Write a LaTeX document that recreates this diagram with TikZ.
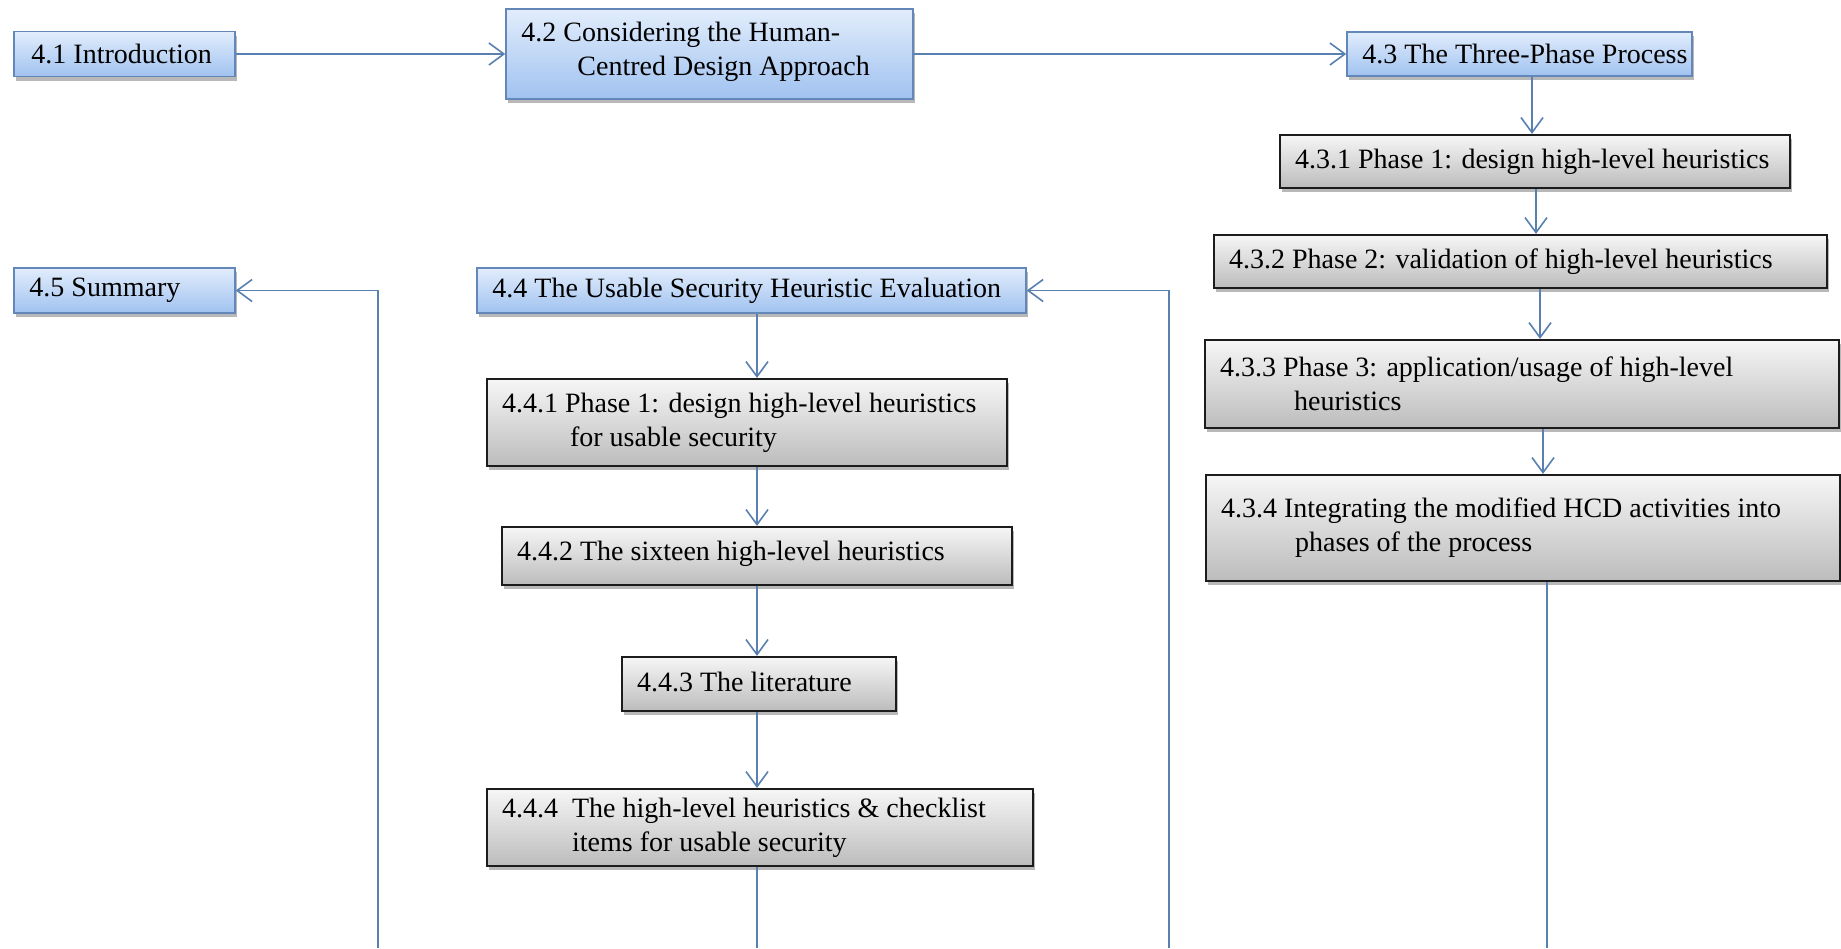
\documentclass[tikz,border=0pt]{standalone}
\usepackage{fontspec}
\setmainfont{Liberation Serif}
\usetikzlibrary{arrows.meta,shadows,positioning}

\definecolor{bluetop}{RGB}{226,237,252}
\definecolor{bluebot}{RGB}{160,194,240}
\definecolor{blueedge}{RGB}{100,135,185}
\definecolor{graytop}{RGB}{246,246,246}
\definecolor{graybot}{RGB}{188,188,188}
\definecolor{grayedge}{RGB}{28,28,28}
\definecolor{linkblue}{RGB}{88,128,176}

\tikzset{
  secbox/.style={draw=blueedge, line width=1.5pt, top color=bluetop, bottom color=bluebot,
    rectangle, inner sep=0pt,
    drop shadow={shadow xshift=1.5pt, shadow yshift=-4pt, fill=black, opacity=0.28}},
  subbox/.style={draw=grayedge, line width=2.2pt, top color=graytop, bottom color=graybot,
    rectangle, inner sep=0pt,
    drop shadow={shadow xshift=1.5pt, shadow yshift=-4pt, fill=black, opacity=0.28}},
  label/.style={anchor=west, inner sep=0pt, align=left, text=black,
    font=\fontsize{28}{34}\selectfont},
  link/.style={draw=linkblue, line width=1.6pt},
  arr/.style={link, -{Straight Barb[length=15pt, width=22pt, line width=1.6pt]}},
}

\begin{document}
\begin{tikzpicture}[x=1pt, y=-1pt]
\useasboundingbox[fill=white] (0,0) rectangle (1841,948);

% chapter sections (blue)
\node[secbox, minimum width=221pt, minimum height=45pt] (b41) at (124.5,54) {};
\node[secbox, minimum width=407pt, minimum height=90pt] (b42) at (709.5,54) {};
\node[secbox, minimum width=345pt, minimum height=44pt] (b43) at (1519.5,54) {};
\node[secbox, minimum width=221pt, minimum height=45pt] (b45) at (124.5,290.5) {};
\node[secbox, minimum width=549pt, minimum height=45pt] (b44) at (751.5,290.5) {};

% subsections of 4.3 (grey)
\node[subbox, minimum width=510pt, minimum height=53pt] (b431) at (1535,161.5) {};
\node[subbox, minimum width=613pt, minimum height=53pt] (b432) at (1520.5,261.5) {};
\node[subbox, minimum width=634pt, minimum height=88pt] (b433) at (1522,384) {};
\node[subbox, minimum width=634pt, minimum height=106pt] (b434) at (1523,528) {};

% subsections of 4.4 (grey)
\node[subbox, minimum width=520pt, minimum height=87pt] (b441) at (747,422.5) {};
\node[subbox, minimum width=510pt, minimum height=58pt] (b442) at (757,556) {};
\node[subbox, minimum width=274pt, minimum height=54pt] (b443) at (759,684) {};
\node[subbox, minimum width=546pt, minimum height=77pt] (b444) at (760,827.5) {};

% box labels
\node[label] (t41) at ([xshift=18pt]b41.west) {4.1 Introduction};
\node[label] (t42) at ([xshift=16pt,yshift=2pt]b42.west) {4.2 Considering the Human-\\\hspace*{56pt}Centred Design Approach};
\node[label] (t43) at ([xshift=16pt]b43.west) {4.3 The Three-Phase Process};
\node[label] (t45) at ([xshift=16pt]b45.west) {4.5 Summary};
\node[label] (t44) at ([xshift=16pt]b44.west) {4.4 The Usable Security Heuristic Evaluation};
\node[label] (t431) at ([xshift=16pt]b431.west) {4.3.1 Phase 1: design high-level heuristics};
\node[label] (t432) at ([xshift=16pt]b432.west) {4.3.2 Phase 2: validation of high-level heuristics};
\node[label] (t433) at ([xshift=16pt]b433.west) {4.3.3 Phase 3: application/usage of high-level\\\hspace*{74pt}heuristics};
\node[label] (t434) at ([xshift=16pt]b434.west) {4.3.4 Integrating the modified HCD activities into\\\hspace*{74pt}phases of the process};
\node[label] (t441) at ([xshift=16pt]b441.west) {4.4.1 Phase 1: design high-level heuristics\\\hspace*{68pt}for usable security};
\node[label] (t442) at ([xshift=16pt,yshift=2pt]b442.west) {4.4.2 The sixteen high-level heuristics};
\node[label] (t443) at ([xshift=16pt,yshift=2pt]b443.west) {4.4.3 The literature};
\node[label] (t444) at ([xshift=16pt]b444.west) {4.4.4\enspace The high-level heuristics \& checklist\\\hspace*{70pt}items for usable security};

% column positions of the vertical links
\coordinate (xa) at (1532,0);
\coordinate (xb) at (1536,0);
\coordinate (xc) at (1540,0);
\coordinate (xd) at (1543,0);
\coordinate (xe) at (1547,948);
\coordinate (xm) at (757,948);
\coordinate (xr) at (1169,948);
\coordinate (xl) at (378,948);

% top row
\draw[arr] (b41.east) -- (b42.west);
\draw[arr] (b42.east) -- (b43.west);

% 4.3 chain
\draw[arr] (b43.south -| xa) -- (b431.north -| xa);
\draw[arr] (b431.south -| xb) -- (b432.north -| xb);
\draw[arr] (b432.south -| xc) -- (b433.north -| xc);
\draw[arr] (b433.south -| xd) -- (b434.north -| xd);
\draw[link] (b434.south -| xe) -- (xe);

% 4.4 chain
\draw[arr] (b44.south -| xm) -- (b441.north -| xm);
\draw[arr] (b441.south -| xm) -- (b442.north -| xm);
\draw[arr] (b442.south -| xm) -- (b443.north -| xm);
\draw[arr] (b443.south -| xm) -- (b444.north -| xm);
\draw[link] (b444.south -| xm) -- (xm);

% return links from below
\draw[arr] (xr) |- (b44.east);
\draw[arr] (xl) |- (b45.east);
\end{tikzpicture}
\end{document}
